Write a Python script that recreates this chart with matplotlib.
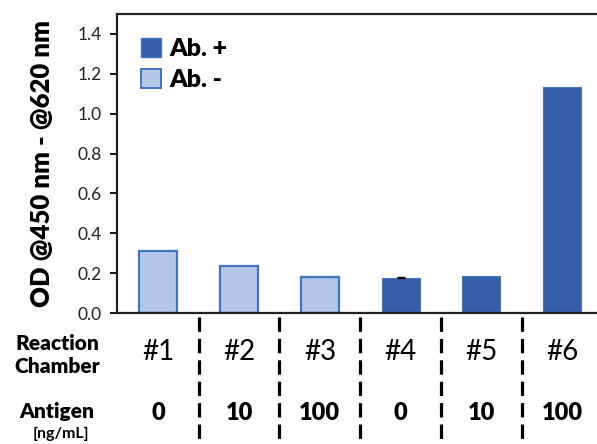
import matplotlib
matplotlib.use("Agg")
import matplotlib.pyplot as plt
from matplotlib.patches import Patch
import matplotlib.transforms as mtransforms

plt.rcParams['font.family'] = ['Lato', 'DejaVu Sans']

chambers = ["#1", "#2", "#3", "#4", "#5", "#6"]
antigen = ["0", "10", "100", "0", "10", "100"]
od_values = [0.311, 0.236, 0.181, 0.178, 0.186, 1.136]
od_errors = [0.0, 0.0, 0.0, 0.004, 0.0, 0.0]
antibody = ["-", "-", "-", "+", "+", "+"]
yticks = [0.0, 0.2, 0.4, 0.6, 0.8, 1.0, 1.2, 1.4]

dark_blue = "#345FA8"
light_blue = "#B4C7E7"
edge_blue = "#4472C4"

fig = plt.figure(figsize=(5.97, 4.44), dpi=100)
ax = fig.add_axes([117/597, 131/444, 1 - 117/597, 299/444])

xs = list(range(len(chambers)))
for x, v, e, ab in zip(xs, od_values, od_errors, antibody):
    if ab == "+":
        ax.bar(x, v, width=0.47, color=dark_blue, edgecolor="#4A74BC", linewidth=0.8, zorder=2)
    else:
        ax.bar(x, v, width=0.47, color=light_blue, edgecolor=edge_blue, linewidth=1.6, zorder=2)
    if e > 0:
        ax.errorbar(x, v, yerr=e, fmt="none", ecolor="black", capsize=3, elinewidth=1, capthick=1, zorder=3)

ax.set_xlim(-0.51, 5.43)
ax.set_ylim(0, 1.5)
ax.set_yticks(yticks)
ax.set_yticklabels([f"{t:.1f}" for t in yticks], fontsize=12.5, color="#222222")
ax.tick_params(axis="y", direction="out", length=5, width=1.3, pad=6)
ax.set_xticks([])
for side in ["left", "top", "bottom"]:
    ax.spines[side].set_linewidth(1.6)
    ax.spines[side].set_color("#222222")
ax.spines["right"].set_visible(False)

ax.set_ylabel("OD @450 nm - @620 nm", fontsize=18.5, fontweight="heavy", labelpad=17)

handles = [Patch(facecolor=dark_blue, edgecolor=edge_blue, label="Ab. +"),
           Patch(facecolor=light_blue, edgecolor=edge_blue, linewidth=1.4, label="Ab. -")]
leg = ax.legend(handles=handles, loc="upper left", bbox_to_anchor=(0.0, 1.0), frameon=False,
                prop={"weight": "heavy", "size": 18}, handlelength=0.8, handleheight=0.8,
                handletextpad=0.35, labelspacing=0.35, borderaxespad=0.5, borderpad=0.45)

# dashed separators between chambers below the axis
trans = mtransforms.blended_transform_factory(ax.transData, ax.transAxes)
for x in [0.5, 1.5, 2.5, 3.5, 4.5]:
    ax.plot([x, x], [-0.015, -0.45], transform=trans, color="black", linewidth=2.3,
            linestyle=(0, (4.5, 2.2)), clip_on=False, zorder=1)

# row labels and entries below the axis
for x, c, a in zip(xs, chambers, antigen):
    ax.text(x, -0.13, c, transform=trans, ha="center", va="center", fontsize=20, color="black")
    ax.text(x, -0.335, a, transform=trans, ha="center", va="center", fontsize=17, fontweight="heavy")

fig.text(57/597, 1 - 355/444, "Reaction\nChamber", ha="center", va="center", fontsize=15,
         fontweight="heavy", linespacing=1.2)
fig.text(57/597, 1 - 411/444, "Antigen", ha="center", va="center", fontsize=15, fontweight="heavy")
fig.text(61/597, 1 - 434/444, "[ng/mL]", ha="center", va="center", fontsize=11.5, fontweight="bold")

fig.savefig("out.png", dpi=100)
